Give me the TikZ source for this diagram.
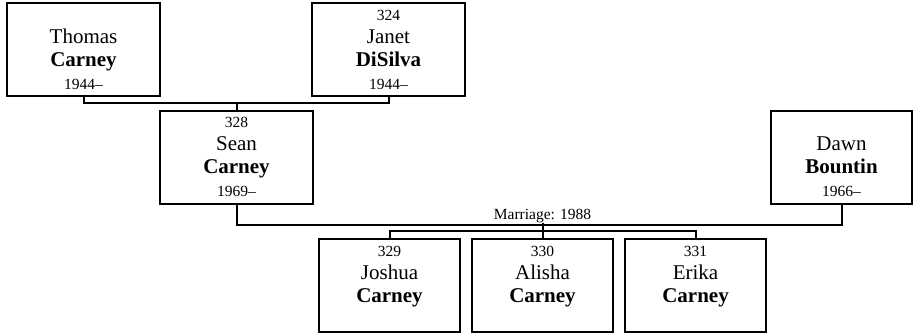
\documentclass[tikz,border=0pt]{standalone}
\usepackage{fontspec}
\setmainfont{Liberation Serif}
\usepackage{tikz}
\usetikzlibrary{positioning}

\newcommand{\sm}{\fontsize{15.5}{23}\selectfont}

\begin{document}
\begin{tikzpicture}[
    x=1pt, y=-1pt,
    person/.style={rectangle, draw, line width=2pt, minimum width=153pt, minimum height=93pt, inner sep=0pt, align=center, font=\fontsize{21}{23}\selectfont},
    child/.style={person, minimum width=141pt},
    link/.style={draw, line width=2pt}
]
    \useasboundingbox (0,0) rectangle (913,333);

    % grandparents
    \node[person] (thomas) at (83.5,49.5) {{\sm\phantom{0}}\\Thomas\\\textbf{Carney}\\{\sm 1944--}};
    \node[person] (janet) at (388.5,49.5) {{\sm 324}\\Janet\\\textbf{DiSilva}\\{\sm 1944--}};

    % parents
    \node[person] (sean) at (236.5,157) {{\sm 328}\\Sean\\\textbf{Carney}\\{\sm 1969--}};
    \node[child] (dawn) at (841.5,157) {{\sm\phantom{0}}\\Dawn\\\textbf{Bountin}\\{\sm 1966--}};

    % children
    \node[child] (joshua) at (389.5,285.5) {{\sm 329}\\Joshua\\\textbf{Carney}\\{\sm\phantom{0}}};
    \node[child, right=10pt of joshua] (alisha) {{\sm 330}\\Alisha\\\textbf{Carney}\\{\sm\phantom{0}}};
    \node[child, right=10pt of alisha] (erika) {{\sm 331}\\Erika\\\textbf{Carney}\\{\sm\phantom{0}}};

    \draw[link] (thomas.south) -- ++(0,6) coordinate (top) -| (janet.south);
    \draw[link] (sean.north) -- (sean.north |- top);

    \draw[link] (sean.south) -- ++(0,20) -| (dawn.south);
    \coordinate (union) at (alisha.north |- 0,223);
    \node[above, inner sep=0pt, font=\sm] (marriage) at (union) {Marriage: 1988};

    \draw[link] (union) -- ++(0,8) coordinate (kids);
    \draw[link] (joshua.north) |- (kids) -| (erika.north);
    \draw[link] (kids) -- (alisha.north);
\end{tikzpicture}
\end{document}
